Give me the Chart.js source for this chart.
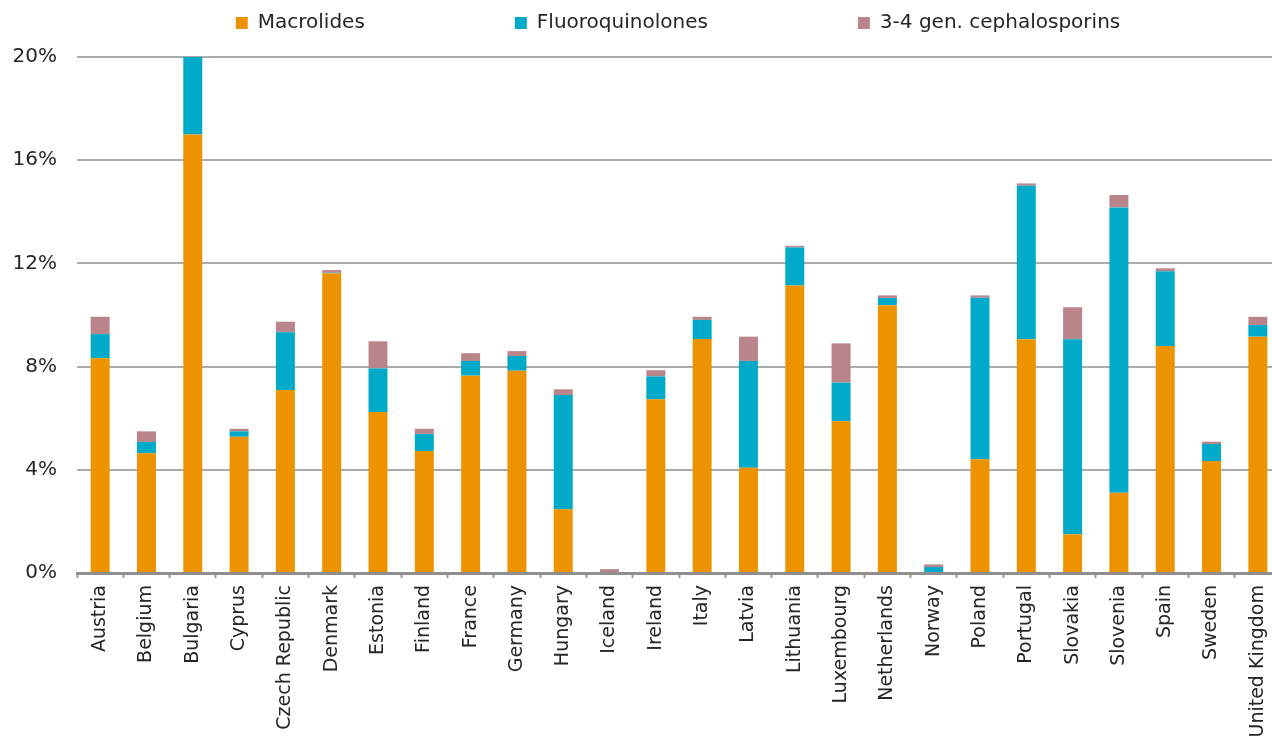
<!DOCTYPE html>
<html>
<head>
<meta charset="utf-8">
<script src="https://cdn.jsdelivr.net/npm/chart.js@4"></script>
<style>
html,body{margin:0;padding:0;background:#fff;overflow:hidden;width:1272px;height:740px}
#wrap{position:relative;width:1281px;height:740px}
</style>
</head>
<body>
<div id="wrap"><canvas id="c" width="1281" height="740"></canvas></div>
<script>
const countries = ['Austria','Belgium','Bulgaria','Cyprus','Czech Republic','Denmark','Estonia','Finland','France','Germany','Hungary','Iceland','Ireland','Italy','Latvia','Lithuania','Luxembourg','Netherlands','Norway','Poland','Portugal','Slovakia','Slovenia','Spain','Sweden','United Kingdom'];
const macrolides       = [8.32, 4.64, 17.0, 5.28, 7.09, 11.62, 6.24, 4.73, 7.65, 7.84, 2.47, 0, 6.73, 9.07, 4.08, 11.14, 5.88, 10.38, 0, 4.41, 9.06, 1.50, 3.11, 8.80, 4.34, 9.16];
const fluoroquinolones = [0.94, 0.44, 3.10, 0.21, 2.24, 0.02, 1.69, 0.66, 0.57, 0.57, 4.43, 0, 0.89, 0.74, 4.14, 1.48, 1.50, 0.28, 0.23, 6.26, 5.95, 7.56, 11.06, 2.90, 0.66, 0.45];
const cephalosporins   = [0.67, 0.41, 0.02, 0.10, 0.41, 0.10, 1.05, 0.20, 0.30, 0.19, 0.22, 0.15, 0.24, 0.12, 0.94, 0.06, 1.52, 0.10, 0.10, 0.09, 0.09, 1.24, 0.48, 0.11, 0.09, 0.32];
const seriesNames = ['Macrolides','Fluoroquinolones','3-4 gen. cephalosporins'];
const seriesColors = ['#ee9300','#00aac8','#b9858a'];
const yTicks = [0, 4, 8, 12, 16, 20];

const FONT = 'DejaVu Sans, Verdana, sans-serif';

const legendPlace = {
  id: 'legendPlace',
  afterLayout(chart) {
    const lg = chart.legend;
    if (!lg) return;
    const pad = lg.options.labels.padding;
    lg.top = 13 - pad;
    const shift = 678 - (lg.left + lg.right) / 2;
    lg.left += shift;
    lg.right += shift;
  }
};

const seriesData = [macrolides, fluoroquinolones, cephalosporins];

new Chart(document.getElementById('c'), {
  type: 'bar',
  data: {
    labels: countries,
    datasets: seriesNames.map((n, i) => ({
      label: n,
      data: seriesData[i],
      backgroundColor: seriesColors[i],
      borderWidth: 0,
      stack: 's',
      barPercentage: 0.41,
      categoryPercentage: 1
    }))
  },
  options: {
    responsive: false,
    animation: false,
    devicePixelRatio: 1,
    layout: { padding: 0 },
    plugins: {
      tooltip: { enabled: false },
      legend: {
        position: 'top',
        align: 'center',
        maxHeight: 57,
        labels: {
          boxWidth: 12,
          boxHeight: 12,
          padding: 150,
          color: '#262626',
          font: { family: FONT, size: 20 }
        }
      }
    },
    scales: {
      x: {
        stacked: true,
        offset: true,
        grid: {
          display: true,
          drawOnChartArea: false,
          drawTicks: true,
          tickLength: 5,
          tickColor: '#9a9a9a',
          tickWidth: 2,
          offset: true
        },
        border: { display: true, color: '#8f8f8f', width: 3 },
        ticks: {
          autoSkip: false,
          maxRotation: 90,
          minRotation: 90,
          padding: 7,
          color: '#262626',
          font: { family: FONT, size: 19 }
        },
        afterFit(scale) {
          scale.height = 167;
          scale.paddingLeft = 0;
          scale.paddingRight = 0;
        }
      },
      y: {
        stacked: true,
        min: 0,
        max: 20,
        grid: {
          color: '#ababab',
          lineWidth: 2,
          drawTicks: false
        },
        border: { display: false },
        afterBuildTicks(scale) {
          scale.ticks = yTicks.map(v => ({ value: v }));
        },
        ticks: {
          padding: 20,
          color: '#262626',
          font: { family: FONT, size: 20 },
          callback: v => v + '%'
        },
        afterFit(scale) {
          scale.width = 77;
        }
      }
    }
  },
  plugins: [legendPlace]
});
</script>
</body>
</html>
